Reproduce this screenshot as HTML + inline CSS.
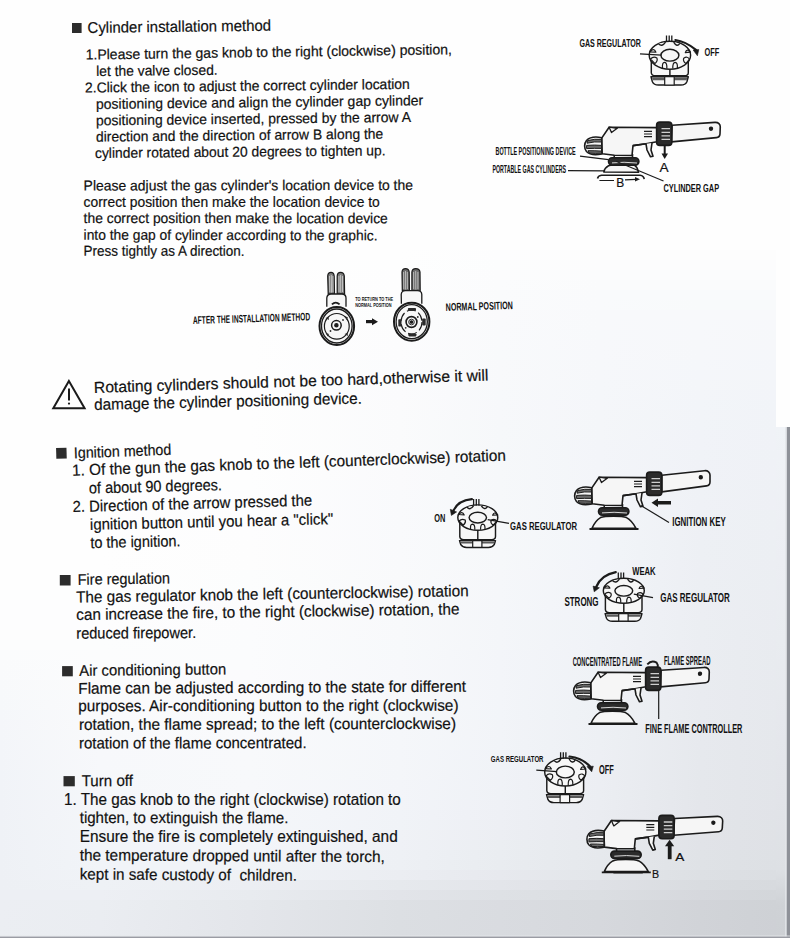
<!DOCTYPE html>
<html><head><meta charset="utf-8"><style>
html,body{margin:0;padding:0;background:#f3f3f4;}
svg{display:block;}
.t{font-family:"Liberation Sans",sans-serif;fill:#111;stroke:#111;stroke-width:0.2px;}
.c{font-family:"Liberation Sans",sans-serif;fill:#111;font-weight:bold;}
</style></head><body>
<svg width="790" height="938" viewBox="0 0 790 938">
<defs>
<linearGradient id="bgv" x1="0" y1="0" x2="0" y2="1">
  <stop offset="0" stop-color="#f5f5f5"/>
  <stop offset="0.5" stop-color="#f3f3f4"/>
  <stop offset="1" stop-color="#eeeff2"/>
</linearGradient>



</defs>
<defs><linearGradient id="bg0" x1="0" x2="1" y1="0" y2="0"><stop offset="0.000" stop-color="#fefefe"/><stop offset="0.129" stop-color="#fefefe"/><stop offset="0.322" stop-color="#fefefe"/><stop offset="0.515" stop-color="#fefefe"/><stop offset="0.644" stop-color="#fefefe"/><stop offset="0.773" stop-color="#fefefe"/><stop offset="0.902" stop-color="#fefefe"/><stop offset="1.000" stop-color="#fefefe"/></linearGradient><linearGradient id="bg1" x1="0" x2="1" y1="0" y2="0"><stop offset="0.000" stop-color="#fefefe"/><stop offset="0.129" stop-color="#fefefe"/><stop offset="0.322" stop-color="#fefefe"/><stop offset="0.515" stop-color="#fefefe"/><stop offset="0.644" stop-color="#fdfdfe"/><stop offset="0.773" stop-color="#fdfdfd"/><stop offset="0.902" stop-color="#fdfdfd"/><stop offset="1.000" stop-color="#fdfdfd"/></linearGradient><linearGradient id="bg2" x1="0" x2="1" y1="0" y2="0"><stop offset="0.000" stop-color="#fefefe"/><stop offset="0.129" stop-color="#fefefe"/><stop offset="0.322" stop-color="#fefefe"/><stop offset="0.515" stop-color="#fdfefe"/><stop offset="0.644" stop-color="#fcfdfd"/><stop offset="0.773" stop-color="#fcfcfd"/><stop offset="0.902" stop-color="#fcfcfd"/><stop offset="1.000" stop-color="#fcfcfd"/></linearGradient><linearGradient id="bg3" x1="0" x2="1" y1="0" y2="0"><stop offset="0.000" stop-color="#fefefe"/><stop offset="0.129" stop-color="#fefefe"/><stop offset="0.322" stop-color="#fefefe"/><stop offset="0.515" stop-color="#fdfdfe"/><stop offset="0.644" stop-color="#fcfcfd"/><stop offset="0.773" stop-color="#fbfcfd"/><stop offset="0.902" stop-color="#fbfcfd"/><stop offset="1.000" stop-color="#fbfcfd"/></linearGradient><linearGradient id="bg4" x1="0" x2="1" y1="0" y2="0"><stop offset="0.000" stop-color="#fefefe"/><stop offset="0.129" stop-color="#fefefe"/><stop offset="0.322" stop-color="#fefefe"/><stop offset="0.515" stop-color="#fdfdfe"/><stop offset="0.644" stop-color="#fbfcfd"/><stop offset="0.773" stop-color="#fafbfc"/><stop offset="0.902" stop-color="#fafbfc"/><stop offset="1.000" stop-color="#fafbfc"/></linearGradient><linearGradient id="bg5" x1="0" x2="1" y1="0" y2="0"><stop offset="0.000" stop-color="#fefefe"/><stop offset="0.129" stop-color="#fefefe"/><stop offset="0.322" stop-color="#fefefe"/><stop offset="0.515" stop-color="#fdfdfd"/><stop offset="0.644" stop-color="#fafbfc"/><stop offset="0.773" stop-color="#f9fafc"/><stop offset="0.902" stop-color="#f9fafc"/><stop offset="1.000" stop-color="#f9fafc"/></linearGradient><linearGradient id="bg6" x1="0" x2="1" y1="0" y2="0"><stop offset="0.000" stop-color="#fefefe"/><stop offset="0.129" stop-color="#fefefe"/><stop offset="0.322" stop-color="#fefefe"/><stop offset="0.515" stop-color="#fdfdfd"/><stop offset="0.644" stop-color="#fafbfc"/><stop offset="0.773" stop-color="#f9fafc"/><stop offset="0.902" stop-color="#f8fafb"/><stop offset="1.000" stop-color="#f8fafb"/></linearGradient><linearGradient id="bg7" x1="0" x2="1" y1="0" y2="0"><stop offset="0.000" stop-color="#fefefe"/><stop offset="0.129" stop-color="#fefefe"/><stop offset="0.322" stop-color="#fefefe"/><stop offset="0.515" stop-color="#fcfdfd"/><stop offset="0.644" stop-color="#fafafc"/><stop offset="0.773" stop-color="#f8f9fb"/><stop offset="0.902" stop-color="#f8f9fb"/><stop offset="1.000" stop-color="#f8f9fb"/></linearGradient><linearGradient id="bg8" x1="0" x2="1" y1="0" y2="0"><stop offset="0.000" stop-color="#fefefe"/><stop offset="0.129" stop-color="#fefefe"/><stop offset="0.322" stop-color="#fefefe"/><stop offset="0.515" stop-color="#fcfdfd"/><stop offset="0.644" stop-color="#f9fafc"/><stop offset="0.773" stop-color="#f8f9fb"/><stop offset="0.902" stop-color="#f7f9fb"/><stop offset="1.000" stop-color="#f7f8fb"/></linearGradient><linearGradient id="bg9" x1="0" x2="1" y1="0" y2="0"><stop offset="0.000" stop-color="#fefefe"/><stop offset="0.129" stop-color="#fefefe"/><stop offset="0.322" stop-color="#fefefe"/><stop offset="0.515" stop-color="#fcfcfd"/><stop offset="0.644" stop-color="#f9fafc"/><stop offset="0.773" stop-color="#f7f9fb"/><stop offset="0.902" stop-color="#f7f8fb"/><stop offset="1.000" stop-color="#f6f8fa"/></linearGradient><linearGradient id="bg10" x1="0" x2="1" y1="0" y2="0"><stop offset="0.000" stop-color="#fefefe"/><stop offset="0.129" stop-color="#fefefe"/><stop offset="0.322" stop-color="#fefefe"/><stop offset="0.515" stop-color="#fcfcfd"/><stop offset="0.644" stop-color="#f9fafc"/><stop offset="0.773" stop-color="#f7f8fb"/><stop offset="0.902" stop-color="#f6f8fa"/><stop offset="1.000" stop-color="#f6f7fa"/></linearGradient><linearGradient id="bg11" x1="0" x2="1" y1="0" y2="0"><stop offset="0.000" stop-color="#fefefe"/><stop offset="0.129" stop-color="#fefefe"/><stop offset="0.322" stop-color="#fefefe"/><stop offset="0.515" stop-color="#fcfcfd"/><stop offset="0.644" stop-color="#f8fafb"/><stop offset="0.773" stop-color="#f7f8fb"/><stop offset="0.902" stop-color="#f6f7fa"/><stop offset="1.000" stop-color="#f5f7fa"/></linearGradient><linearGradient id="bg12" x1="0" x2="1" y1="0" y2="0"><stop offset="0.000" stop-color="#fefefe"/><stop offset="0.129" stop-color="#fefefe"/><stop offset="0.322" stop-color="#fefefe"/><stop offset="0.515" stop-color="#fbfcfd"/><stop offset="0.644" stop-color="#f8f9fb"/><stop offset="0.773" stop-color="#f6f8fa"/><stop offset="0.902" stop-color="#f5f7fa"/><stop offset="1.000" stop-color="#f4f6fa"/></linearGradient><linearGradient id="bg13" x1="0" x2="1" y1="0" y2="0"><stop offset="0.000" stop-color="#fefefe"/><stop offset="0.129" stop-color="#fefefe"/><stop offset="0.322" stop-color="#fefefe"/><stop offset="0.515" stop-color="#fbfcfd"/><stop offset="0.644" stop-color="#f8f9fb"/><stop offset="0.773" stop-color="#f6f7fa"/><stop offset="0.902" stop-color="#f4f6fa"/><stop offset="1.000" stop-color="#f4f6f9"/></linearGradient><linearGradient id="bg14" x1="0" x2="1" y1="0" y2="0"><stop offset="0.000" stop-color="#fefefe"/><stop offset="0.129" stop-color="#fefefe"/><stop offset="0.322" stop-color="#fefefe"/><stop offset="0.515" stop-color="#fbfcfd"/><stop offset="0.644" stop-color="#f8f9fb"/><stop offset="0.773" stop-color="#f5f7fa"/><stop offset="0.902" stop-color="#f4f6f9"/><stop offset="1.000" stop-color="#f3f5f9"/></linearGradient><linearGradient id="bg15" x1="0" x2="1" y1="0" y2="0"><stop offset="0.000" stop-color="#fefefe"/><stop offset="0.129" stop-color="#fefefe"/><stop offset="0.322" stop-color="#fefefe"/><stop offset="0.515" stop-color="#fbfbfd"/><stop offset="0.644" stop-color="#f7f9fb"/><stop offset="0.773" stop-color="#f5f7fa"/><stop offset="0.902" stop-color="#f3f5f9"/><stop offset="1.000" stop-color="#f2f4f9"/></linearGradient><linearGradient id="bg16" x1="0" x2="1" y1="0" y2="0"><stop offset="0.000" stop-color="#fefefe"/><stop offset="0.129" stop-color="#fefefe"/><stop offset="0.322" stop-color="#fefefe"/><stop offset="0.515" stop-color="#fbfbfc"/><stop offset="0.644" stop-color="#f7f8fb"/><stop offset="0.773" stop-color="#f5f6fa"/><stop offset="0.902" stop-color="#f2f5f9"/><stop offset="1.000" stop-color="#f1f4f8"/></linearGradient><linearGradient id="bg17" x1="0" x2="1" y1="0" y2="0"><stop offset="0.000" stop-color="#fefefe"/><stop offset="0.129" stop-color="#fefefe"/><stop offset="0.322" stop-color="#fefefe"/><stop offset="0.515" stop-color="#fafbfc"/><stop offset="0.644" stop-color="#f7f8fb"/><stop offset="0.773" stop-color="#f4f6f9"/><stop offset="0.902" stop-color="#f2f4f8"/><stop offset="1.000" stop-color="#f1f3f8"/></linearGradient><linearGradient id="bg18" x1="0" x2="1" y1="0" y2="0"><stop offset="0.000" stop-color="#fefefe"/><stop offset="0.129" stop-color="#fefefe"/><stop offset="0.322" stop-color="#fefefe"/><stop offset="0.515" stop-color="#fafbfc"/><stop offset="0.644" stop-color="#f6f8fa"/><stop offset="0.773" stop-color="#f4f6f9"/><stop offset="0.902" stop-color="#f1f4f8"/><stop offset="1.000" stop-color="#f0f3f7"/></linearGradient><linearGradient id="bg19" x1="0" x2="1" y1="0" y2="0"><stop offset="0.000" stop-color="#fefefe"/><stop offset="0.129" stop-color="#fefefe"/><stop offset="0.322" stop-color="#fefefe"/><stop offset="0.515" stop-color="#fafbfc"/><stop offset="0.644" stop-color="#f6f8fa"/><stop offset="0.773" stop-color="#f4f6f9"/><stop offset="0.902" stop-color="#f1f3f8"/><stop offset="1.000" stop-color="#f0f2f7"/></linearGradient><linearGradient id="bg20" x1="0" x2="1" y1="0" y2="0"><stop offset="0.000" stop-color="#fefefe"/><stop offset="0.129" stop-color="#fefefe"/><stop offset="0.322" stop-color="#fefefe"/><stop offset="0.515" stop-color="#fafbfc"/><stop offset="0.644" stop-color="#f6f8fa"/><stop offset="0.773" stop-color="#f3f5f9"/><stop offset="0.902" stop-color="#f1f3f8"/><stop offset="1.000" stop-color="#f0f2f7"/></linearGradient><linearGradient id="bg21" x1="0" x2="1" y1="0" y2="0"><stop offset="0.000" stop-color="#fefefe"/><stop offset="0.129" stop-color="#fefefe"/><stop offset="0.322" stop-color="#fefefe"/><stop offset="0.515" stop-color="#fafbfc"/><stop offset="0.644" stop-color="#f6f8fa"/><stop offset="0.773" stop-color="#f3f5f9"/><stop offset="0.902" stop-color="#f0f3f7"/><stop offset="1.000" stop-color="#eff2f6"/></linearGradient><linearGradient id="bg22" x1="0" x2="1" y1="0" y2="0"><stop offset="0.000" stop-color="#fefefe"/><stop offset="0.129" stop-color="#fefefe"/><stop offset="0.322" stop-color="#fefefe"/><stop offset="0.515" stop-color="#fafbfc"/><stop offset="0.644" stop-color="#f6f8fa"/><stop offset="0.773" stop-color="#f3f5f9"/><stop offset="0.902" stop-color="#f0f2f7"/><stop offset="1.000" stop-color="#eff1f6"/></linearGradient><linearGradient id="bg23" x1="0" x2="1" y1="0" y2="0"><stop offset="0.000" stop-color="#fefefe"/><stop offset="0.129" stop-color="#fefefe"/><stop offset="0.322" stop-color="#fefefe"/><stop offset="0.515" stop-color="#fafafc"/><stop offset="0.644" stop-color="#f6f8fa"/><stop offset="0.773" stop-color="#f3f5f9"/><stop offset="0.902" stop-color="#f0f2f7"/><stop offset="1.000" stop-color="#eff1f6"/></linearGradient><linearGradient id="bg24" x1="0" x2="1" y1="0" y2="0"><stop offset="0.000" stop-color="#fefefe"/><stop offset="0.129" stop-color="#fefefe"/><stop offset="0.322" stop-color="#fdfefe"/><stop offset="0.515" stop-color="#fafafc"/><stop offset="0.644" stop-color="#f6f8fa"/><stop offset="0.773" stop-color="#f3f5f9"/><stop offset="0.902" stop-color="#eff2f6"/><stop offset="1.000" stop-color="#eef1f5"/></linearGradient><linearGradient id="bg25" x1="0" x2="1" y1="0" y2="0"><stop offset="0.000" stop-color="#fefefe"/><stop offset="0.129" stop-color="#fefefe"/><stop offset="0.322" stop-color="#fdfdfe"/><stop offset="0.515" stop-color="#f9fafc"/><stop offset="0.644" stop-color="#f6f8fa"/><stop offset="0.773" stop-color="#f3f5f9"/><stop offset="0.902" stop-color="#eff2f6"/><stop offset="1.000" stop-color="#eef0f5"/></linearGradient><linearGradient id="bg26" x1="0" x2="1" y1="0" y2="0"><stop offset="0.000" stop-color="#fefefe"/><stop offset="0.129" stop-color="#fefefe"/><stop offset="0.322" stop-color="#fdfdfe"/><stop offset="0.515" stop-color="#f9fafc"/><stop offset="0.644" stop-color="#f6f8fa"/><stop offset="0.773" stop-color="#f3f5f9"/><stop offset="0.902" stop-color="#eff1f6"/><stop offset="1.000" stop-color="#eef0f5"/></linearGradient><linearGradient id="bg27" x1="0" x2="1" y1="0" y2="0"><stop offset="0.000" stop-color="#fefefe"/><stop offset="0.129" stop-color="#fefefe"/><stop offset="0.322" stop-color="#fdfdfe"/><stop offset="0.515" stop-color="#f9fafc"/><stop offset="0.644" stop-color="#f6f8fa"/><stop offset="0.773" stop-color="#f3f5f9"/><stop offset="0.902" stop-color="#eef1f5"/><stop offset="1.000" stop-color="#edf0f4"/></linearGradient><linearGradient id="bg28" x1="0" x2="1" y1="0" y2="0"><stop offset="0.000" stop-color="#fefefe"/><stop offset="0.129" stop-color="#fefefe"/><stop offset="0.322" stop-color="#fdfdfe"/><stop offset="0.515" stop-color="#f9fafc"/><stop offset="0.644" stop-color="#f6f8fa"/><stop offset="0.773" stop-color="#f3f5f9"/><stop offset="0.902" stop-color="#eef1f5"/><stop offset="1.000" stop-color="#edf0f4"/></linearGradient><linearGradient id="bg29" x1="0" x2="1" y1="0" y2="0"><stop offset="0.000" stop-color="#fefefe"/><stop offset="0.129" stop-color="#fefefe"/><stop offset="0.322" stop-color="#fdfdfe"/><stop offset="0.515" stop-color="#f9fafc"/><stop offset="0.644" stop-color="#f6f8fa"/><stop offset="0.773" stop-color="#f3f5f9"/><stop offset="0.902" stop-color="#eef0f5"/><stop offset="1.000" stop-color="#edeff4"/></linearGradient><linearGradient id="bg30" x1="0" x2="1" y1="0" y2="0"><stop offset="0.000" stop-color="#fefefe"/><stop offset="0.129" stop-color="#fefefe"/><stop offset="0.322" stop-color="#fdfdfd"/><stop offset="0.515" stop-color="#f9fafc"/><stop offset="0.644" stop-color="#f6f8fa"/><stop offset="0.773" stop-color="#f2f5f9"/><stop offset="0.902" stop-color="#edf0f4"/><stop offset="1.000" stop-color="#eceff3"/></linearGradient><linearGradient id="bg31" x1="0" x2="1" y1="0" y2="0"><stop offset="0.000" stop-color="#fefefe"/><stop offset="0.129" stop-color="#fefefe"/><stop offset="0.322" stop-color="#fdfdfd"/><stop offset="0.515" stop-color="#f9fafc"/><stop offset="0.644" stop-color="#f6f8fa"/><stop offset="0.773" stop-color="#f2f5f9"/><stop offset="0.902" stop-color="#edf0f4"/><stop offset="1.000" stop-color="#eceff3"/></linearGradient><linearGradient id="bg32" x1="0" x2="1" y1="0" y2="0"><stop offset="0.000" stop-color="#fefefe"/><stop offset="0.129" stop-color="#fefefe"/><stop offset="0.322" stop-color="#fdfdfd"/><stop offset="0.515" stop-color="#f9fafc"/><stop offset="0.644" stop-color="#f6f8fa"/><stop offset="0.773" stop-color="#f2f4f9"/><stop offset="0.902" stop-color="#edeff4"/><stop offset="1.000" stop-color="#eceef3"/></linearGradient><linearGradient id="bg33" x1="0" x2="1" y1="0" y2="0"><stop offset="0.000" stop-color="#fefefe"/><stop offset="0.129" stop-color="#fefefe"/><stop offset="0.322" stop-color="#fcfdfd"/><stop offset="0.515" stop-color="#f9fafb"/><stop offset="0.644" stop-color="#f6f7fa"/><stop offset="0.773" stop-color="#f2f4f8"/><stop offset="0.902" stop-color="#edeff4"/><stop offset="1.000" stop-color="#ebeef2"/></linearGradient><linearGradient id="bg34" x1="0" x2="1" y1="0" y2="0"><stop offset="0.000" stop-color="#fefefe"/><stop offset="0.129" stop-color="#fefefe"/><stop offset="0.322" stop-color="#fcfdfd"/><stop offset="0.515" stop-color="#f8f9fb"/><stop offset="0.644" stop-color="#f5f7fa"/><stop offset="0.773" stop-color="#f1f4f8"/><stop offset="0.902" stop-color="#eceff3"/><stop offset="1.000" stop-color="#ebeef2"/></linearGradient><linearGradient id="bg35" x1="0" x2="1" y1="0" y2="0"><stop offset="0.000" stop-color="#fdfefe"/><stop offset="0.129" stop-color="#fdfefe"/><stop offset="0.322" stop-color="#fcfcfd"/><stop offset="0.515" stop-color="#f8f9fb"/><stop offset="0.644" stop-color="#f5f7fa"/><stop offset="0.773" stop-color="#f1f4f8"/><stop offset="0.902" stop-color="#eceff3"/><stop offset="1.000" stop-color="#ebedf2"/></linearGradient><linearGradient id="bg36" x1="0" x2="1" y1="0" y2="0"><stop offset="0.000" stop-color="#fdfdfe"/><stop offset="0.129" stop-color="#fdfdfe"/><stop offset="0.322" stop-color="#fcfcfd"/><stop offset="0.515" stop-color="#f8f9fb"/><stop offset="0.644" stop-color="#f5f7fa"/><stop offset="0.773" stop-color="#f1f3f8"/><stop offset="0.902" stop-color="#eceef3"/><stop offset="1.000" stop-color="#eaedf1"/></linearGradient><linearGradient id="bg37" x1="0" x2="1" y1="0" y2="0"><stop offset="0.000" stop-color="#fdfdfe"/><stop offset="0.129" stop-color="#fdfdfe"/><stop offset="0.322" stop-color="#fcfcfd"/><stop offset="0.515" stop-color="#f8f9fb"/><stop offset="0.644" stop-color="#f4f6fa"/><stop offset="0.773" stop-color="#f1f3f8"/><stop offset="0.902" stop-color="#eceef3"/><stop offset="1.000" stop-color="#eaecf1"/></linearGradient><linearGradient id="bg38" x1="0" x2="1" y1="0" y2="0"><stop offset="0.000" stop-color="#fdfdfe"/><stop offset="0.129" stop-color="#fdfdfe"/><stop offset="0.322" stop-color="#fcfcfd"/><stop offset="0.515" stop-color="#f8f9fb"/><stop offset="0.644" stop-color="#f4f6f9"/><stop offset="0.773" stop-color="#f0f3f7"/><stop offset="0.902" stop-color="#ebeef2"/><stop offset="1.000" stop-color="#eaecf1"/></linearGradient><linearGradient id="bg39" x1="0" x2="1" y1="0" y2="0"><stop offset="0.000" stop-color="#fdfdfd"/><stop offset="0.129" stop-color="#fdfdfd"/><stop offset="0.322" stop-color="#fbfcfd"/><stop offset="0.515" stop-color="#f8f9fb"/><stop offset="0.644" stop-color="#f4f6f9"/><stop offset="0.773" stop-color="#f0f3f7"/><stop offset="0.902" stop-color="#ebeef2"/><stop offset="1.000" stop-color="#e9ecf0"/></linearGradient><linearGradient id="bg40" x1="0" x2="1" y1="0" y2="0"><stop offset="0.000" stop-color="#fcfdfd"/><stop offset="0.129" stop-color="#fcfdfd"/><stop offset="0.322" stop-color="#fbfcfd"/><stop offset="0.515" stop-color="#f7f9fb"/><stop offset="0.644" stop-color="#f4f6f9"/><stop offset="0.773" stop-color="#f0f2f7"/><stop offset="0.902" stop-color="#ebedf2"/><stop offset="1.000" stop-color="#e9ebf0"/></linearGradient><linearGradient id="bg41" x1="0" x2="1" y1="0" y2="0"><stop offset="0.000" stop-color="#fbfcfd"/><stop offset="0.129" stop-color="#fcfcfd"/><stop offset="0.322" stop-color="#fbfcfd"/><stop offset="0.515" stop-color="#f7f9fb"/><stop offset="0.644" stop-color="#f3f5f9"/><stop offset="0.773" stop-color="#f0f2f7"/><stop offset="0.902" stop-color="#eaedf1"/><stop offset="1.000" stop-color="#e8ebef"/></linearGradient><linearGradient id="bg42" x1="0" x2="1" y1="0" y2="0"><stop offset="0.000" stop-color="#fafbfc"/><stop offset="0.129" stop-color="#fbfcfd"/><stop offset="0.322" stop-color="#fbfcfd"/><stop offset="0.515" stop-color="#f7f8fb"/><stop offset="0.644" stop-color="#f3f5f9"/><stop offset="0.773" stop-color="#eff2f6"/><stop offset="0.902" stop-color="#eaedf1"/><stop offset="1.000" stop-color="#e8ebef"/></linearGradient><linearGradient id="bg43" x1="0" x2="1" y1="0" y2="0"><stop offset="0.000" stop-color="#f9fafc"/><stop offset="0.129" stop-color="#fbfcfd"/><stop offset="0.322" stop-color="#fbfbfd"/><stop offset="0.515" stop-color="#f7f8fb"/><stop offset="0.644" stop-color="#f3f5f9"/><stop offset="0.773" stop-color="#eff2f6"/><stop offset="0.902" stop-color="#eaecf1"/><stop offset="1.000" stop-color="#e8eaef"/></linearGradient><linearGradient id="bg44" x1="0" x2="1" y1="0" y2="0"><stop offset="0.000" stop-color="#f8f9fb"/><stop offset="0.129" stop-color="#fbfbfc"/><stop offset="0.322" stop-color="#fbfbfc"/><stop offset="0.515" stop-color="#f7f8fb"/><stop offset="0.644" stop-color="#f3f5f9"/><stop offset="0.773" stop-color="#eff1f6"/><stop offset="0.902" stop-color="#e9ecf0"/><stop offset="1.000" stop-color="#e7eaee"/></linearGradient><linearGradient id="bg45" x1="0" x2="1" y1="0" y2="0"><stop offset="0.000" stop-color="#f7f9fb"/><stop offset="0.129" stop-color="#fafbfc"/><stop offset="0.322" stop-color="#fbfbfc"/><stop offset="0.515" stop-color="#f7f8fb"/><stop offset="0.644" stop-color="#f3f5f9"/><stop offset="0.773" stop-color="#eff1f6"/><stop offset="0.902" stop-color="#e9ebf0"/><stop offset="1.000" stop-color="#e7e9ee"/></linearGradient><linearGradient id="bg46" x1="0" x2="1" y1="0" y2="0"><stop offset="0.000" stop-color="#f6f8fa"/><stop offset="0.129" stop-color="#fafafc"/><stop offset="0.322" stop-color="#fafbfc"/><stop offset="0.515" stop-color="#f6f8fb"/><stop offset="0.644" stop-color="#f3f5f9"/><stop offset="0.773" stop-color="#eef1f5"/><stop offset="0.902" stop-color="#e9ebf0"/><stop offset="1.000" stop-color="#e7e9ee"/></linearGradient><linearGradient id="bg47" x1="0" x2="1" y1="0" y2="0"><stop offset="0.000" stop-color="#f5f7fa"/><stop offset="0.129" stop-color="#f9fafc"/><stop offset="0.322" stop-color="#fafbfc"/><stop offset="0.515" stop-color="#f6f8fa"/><stop offset="0.644" stop-color="#f2f5f9"/><stop offset="0.773" stop-color="#eef1f5"/><stop offset="0.902" stop-color="#e8ebef"/><stop offset="1.000" stop-color="#e6e9ed"/></linearGradient><linearGradient id="bg48" x1="0" x2="1" y1="0" y2="0"><stop offset="0.000" stop-color="#f5f6fa"/><stop offset="0.129" stop-color="#f9fafb"/><stop offset="0.322" stop-color="#fafbfc"/><stop offset="0.515" stop-color="#f6f8fa"/><stop offset="0.644" stop-color="#f2f4f8"/><stop offset="0.773" stop-color="#eef0f5"/><stop offset="0.902" stop-color="#e8eaef"/><stop offset="1.000" stop-color="#e6e8ed"/></linearGradient><linearGradient id="bg49" x1="0" x2="1" y1="0" y2="0"><stop offset="0.000" stop-color="#f4f6f9"/><stop offset="0.129" stop-color="#f8f9fb"/><stop offset="0.322" stop-color="#f9fafc"/><stop offset="0.515" stop-color="#f5f7fa"/><stop offset="0.644" stop-color="#f2f4f8"/><stop offset="0.773" stop-color="#edf0f4"/><stop offset="0.902" stop-color="#e7eaee"/><stop offset="1.000" stop-color="#e5e8ec"/></linearGradient><linearGradient id="bg50" x1="0" x2="1" y1="0" y2="0"><stop offset="0.000" stop-color="#f3f5f9"/><stop offset="0.129" stop-color="#f8f9fb"/><stop offset="0.322" stop-color="#f9fafc"/><stop offset="0.515" stop-color="#f5f7fa"/><stop offset="0.644" stop-color="#f1f4f8"/><stop offset="0.773" stop-color="#edf0f4"/><stop offset="0.902" stop-color="#e7e9ee"/><stop offset="1.000" stop-color="#e5e7ec"/></linearGradient><linearGradient id="bg51" x1="0" x2="1" y1="0" y2="0"><stop offset="0.000" stop-color="#f3f5f9"/><stop offset="0.129" stop-color="#f7f8fb"/><stop offset="0.322" stop-color="#f8f9fb"/><stop offset="0.515" stop-color="#f4f6fa"/><stop offset="0.644" stop-color="#f1f3f8"/><stop offset="0.773" stop-color="#edeff4"/><stop offset="0.902" stop-color="#e6e9ed"/><stop offset="1.000" stop-color="#e4e7eb"/></linearGradient><linearGradient id="bg52" x1="0" x2="1" y1="0" y2="0"><stop offset="0.000" stop-color="#f2f4f8"/><stop offset="0.129" stop-color="#f7f8fb"/><stop offset="0.322" stop-color="#f8f9fb"/><stop offset="0.515" stop-color="#f4f6f9"/><stop offset="0.644" stop-color="#f0f3f7"/><stop offset="0.773" stop-color="#eceff3"/><stop offset="0.902" stop-color="#e6e8ed"/><stop offset="1.000" stop-color="#e4e6eb"/></linearGradient><linearGradient id="bg53" x1="0" x2="1" y1="0" y2="0"><stop offset="0.000" stop-color="#f1f4f8"/><stop offset="0.129" stop-color="#f6f8fa"/><stop offset="0.322" stop-color="#f7f9fb"/><stop offset="0.515" stop-color="#f4f6f9"/><stop offset="0.644" stop-color="#f0f2f7"/><stop offset="0.773" stop-color="#eceef3"/><stop offset="0.902" stop-color="#e5e8ec"/><stop offset="1.000" stop-color="#e3e6ea"/></linearGradient><linearGradient id="bg54" x1="0" x2="1" y1="0" y2="0"><stop offset="0.000" stop-color="#f1f3f8"/><stop offset="0.129" stop-color="#f6f7fa"/><stop offset="0.322" stop-color="#f7f8fb"/><stop offset="0.515" stop-color="#f3f5f9"/><stop offset="0.644" stop-color="#f0f2f7"/><stop offset="0.773" stop-color="#eceef3"/><stop offset="0.902" stop-color="#e5e7ec"/><stop offset="1.000" stop-color="#e3e5ea"/></linearGradient><linearGradient id="bg55" x1="0" x2="1" y1="0" y2="0"><stop offset="0.000" stop-color="#f0f3f7"/><stop offset="0.129" stop-color="#f5f7fa"/><stop offset="0.322" stop-color="#f6f8fb"/><stop offset="0.515" stop-color="#f3f5f9"/><stop offset="0.644" stop-color="#eff2f6"/><stop offset="0.773" stop-color="#ebeef2"/><stop offset="0.902" stop-color="#e4e7eb"/><stop offset="1.000" stop-color="#e2e5e9"/></linearGradient><linearGradient id="bg56" x1="0" x2="1" y1="0" y2="0"><stop offset="0.000" stop-color="#f0f2f7"/><stop offset="0.129" stop-color="#f5f6fa"/><stop offset="0.322" stop-color="#f6f7fa"/><stop offset="0.515" stop-color="#f2f4f8"/><stop offset="0.644" stop-color="#eff1f6"/><stop offset="0.773" stop-color="#ebedf2"/><stop offset="0.902" stop-color="#e4e6eb"/><stop offset="1.000" stop-color="#e2e4e9"/></linearGradient><linearGradient id="bg57" x1="0" x2="1" y1="0" y2="0"><stop offset="0.000" stop-color="#f0f2f7"/><stop offset="0.129" stop-color="#f4f6f9"/><stop offset="0.322" stop-color="#f5f7fa"/><stop offset="0.515" stop-color="#f1f3f8"/><stop offset="0.644" stop-color="#eef0f5"/><stop offset="0.773" stop-color="#eaecf1"/><stop offset="0.902" stop-color="#e3e5ea"/><stop offset="1.000" stop-color="#e1e3e8"/></linearGradient><linearGradient id="bg58" x1="0" x2="1" y1="0" y2="0"><stop offset="0.000" stop-color="#eff2f6"/><stop offset="0.129" stop-color="#f4f6f9"/><stop offset="0.322" stop-color="#f4f6fa"/><stop offset="0.515" stop-color="#f0f3f7"/><stop offset="0.644" stop-color="#edeff4"/><stop offset="0.773" stop-color="#e9ebf0"/><stop offset="0.902" stop-color="#e2e5e9"/><stop offset="1.000" stop-color="#e0e3e7"/></linearGradient><linearGradient id="bg59" x1="0" x2="1" y1="0" y2="0"><stop offset="0.000" stop-color="#eff2f6"/><stop offset="0.129" stop-color="#f3f5f9"/><stop offset="0.322" stop-color="#f4f6f9"/><stop offset="0.515" stop-color="#f0f2f6"/><stop offset="0.644" stop-color="#eceef3"/><stop offset="0.773" stop-color="#e8eaef"/><stop offset="0.902" stop-color="#e2e4e8"/><stop offset="1.000" stop-color="#e0e2e6"/></linearGradient><linearGradient id="bg60" x1="0" x2="1" y1="0" y2="0"><stop offset="0.000" stop-color="#eff1f6"/><stop offset="0.129" stop-color="#f2f5f9"/><stop offset="0.322" stop-color="#f3f5f9"/><stop offset="0.515" stop-color="#eff1f6"/><stop offset="0.644" stop-color="#ebeef2"/><stop offset="0.773" stop-color="#e7eaee"/><stop offset="0.902" stop-color="#e1e3e8"/><stop offset="1.000" stop-color="#dfe1e6"/></linearGradient><linearGradient id="bg61" x1="0" x2="1" y1="0" y2="0"><stop offset="0.000" stop-color="#eef1f5"/><stop offset="0.129" stop-color="#f2f4f8"/><stop offset="0.322" stop-color="#f2f4f9"/><stop offset="0.515" stop-color="#eef1f5"/><stop offset="0.644" stop-color="#eaedf1"/><stop offset="0.773" stop-color="#e6e9ed"/><stop offset="0.902" stop-color="#e0e3e7"/><stop offset="1.000" stop-color="#dee1e5"/></linearGradient><linearGradient id="bg62" x1="0" x2="1" y1="0" y2="0"><stop offset="0.000" stop-color="#eef1f5"/><stop offset="0.129" stop-color="#f1f4f8"/><stop offset="0.322" stop-color="#f1f4f8"/><stop offset="0.515" stop-color="#edf0f4"/><stop offset="0.644" stop-color="#e9ecf0"/><stop offset="0.773" stop-color="#e5e8ec"/><stop offset="0.902" stop-color="#dfe2e6"/><stop offset="1.000" stop-color="#dde0e4"/></linearGradient><linearGradient id="bg63" x1="0" x2="1" y1="0" y2="0"><stop offset="0.000" stop-color="#eef0f5"/><stop offset="0.129" stop-color="#f0f3f7"/><stop offset="0.322" stop-color="#eff2f6"/><stop offset="0.515" stop-color="#ebedf2"/><stop offset="0.644" stop-color="#e7e9ee"/><stop offset="0.773" stop-color="#e3e6ea"/><stop offset="0.902" stop-color="#dde0e4"/><stop offset="1.000" stop-color="#dbdee2"/></linearGradient><linearGradient id="bg64" x1="0" x2="1" y1="0" y2="0"><stop offset="0.000" stop-color="#edf0f4"/><stop offset="0.129" stop-color="#eef1f5"/><stop offset="0.322" stop-color="#eceef3"/><stop offset="0.515" stop-color="#e6e9ed"/><stop offset="0.644" stop-color="#e3e5ea"/><stop offset="0.773" stop-color="#dfe1e6"/><stop offset="0.902" stop-color="#d9dce0"/><stop offset="1.000" stop-color="#d7dade"/></linearGradient><linearGradient id="bg65" x1="0" x2="1" y1="0" y2="0"><stop offset="0.000" stop-color="#edeff4"/><stop offset="0.129" stop-color="#edeff4"/><stop offset="0.322" stop-color="#e8ebef"/><stop offset="0.515" stop-color="#e2e4e9"/><stop offset="0.644" stop-color="#dee1e5"/><stop offset="0.773" stop-color="#dbdee2"/><stop offset="0.902" stop-color="#d6d8dd"/><stop offset="1.000" stop-color="#d3d6da"/></linearGradient><linearGradient id="bg66" x1="0" x2="1" y1="0" y2="0"><stop offset="0.000" stop-color="#eceef3"/><stop offset="0.129" stop-color="#ebeef2"/><stop offset="0.322" stop-color="#e5e8ec"/><stop offset="0.515" stop-color="#dde0e4"/><stop offset="0.644" stop-color="#dadce1"/><stop offset="0.773" stop-color="#d7dade"/><stop offset="0.902" stop-color="#d2d4d9"/><stop offset="1.000" stop-color="#cfd2d6"/></linearGradient><linearGradient id="bg67" x1="0" x2="1" y1="0" y2="0"><stop offset="0.000" stop-color="#eceef3"/><stop offset="0.129" stop-color="#eaedf1"/><stop offset="0.322" stop-color="#e4e6eb"/><stop offset="0.515" stop-color="#dcdfe3"/><stop offset="0.644" stop-color="#d9dce0"/><stop offset="0.773" stop-color="#d6d9dd"/><stop offset="0.902" stop-color="#d1d4d8"/><stop offset="1.000" stop-color="#ced1d5"/></linearGradient><linearGradient id="bg68" x1="0" x2="1" y1="0" y2="0"><stop offset="0.000" stop-color="#ebeef2"/><stop offset="0.129" stop-color="#eaecf1"/><stop offset="0.322" stop-color="#e3e5ea"/><stop offset="0.515" stop-color="#dbdee2"/><stop offset="0.644" stop-color="#d9dbe0"/><stop offset="0.773" stop-color="#d6d8dd"/><stop offset="0.902" stop-color="#d1d3d8"/><stop offset="1.000" stop-color="#ced0d5"/></linearGradient><linearGradient id="bg69" x1="0" x2="1" y1="0" y2="0"><stop offset="0.000" stop-color="#ebeef2"/><stop offset="0.129" stop-color="#e9ecf0"/><stop offset="0.322" stop-color="#e1e4e8"/><stop offset="0.515" stop-color="#dadde1"/><stop offset="0.644" stop-color="#d8dbdf"/><stop offset="0.773" stop-color="#d5d8dc"/><stop offset="0.902" stop-color="#d0d3d7"/><stop offset="1.000" stop-color="#cdd0d4"/></linearGradient><linearGradient id="bgr" x1="0" x2="0" y1="0" y2="1"><stop offset="0.000" stop-color="#f0f3f7"/><stop offset="0.260" stop-color="#eceef3"/><stop offset="0.417" stop-color="#e9ecf0"/><stop offset="0.573" stop-color="#e6e8ed"/><stop offset="0.730" stop-color="#e2e4e9"/><stop offset="0.867" stop-color="#dde0e4"/><stop offset="0.935" stop-color="#cfd2d6"/><stop offset="1.000" stop-color="#cdd0d4"/></linearGradient></defs>
<rect x="0" y="0" width="776" height="10" fill="#fefefe"/>
<rect x="0" y="10" width="776" height="10" fill="#fefefe"/>
<rect x="0" y="20" width="776" height="10" fill="#fefefe"/>
<rect x="0" y="30" width="776" height="10" fill="#fefefe"/>
<rect x="0" y="40" width="776" height="10" fill="#fefefe"/>
<rect x="0" y="50" width="776" height="10" fill="#fefefe"/>
<rect x="0" y="60" width="776" height="10" fill="#fefefe"/>
<rect x="0" y="70" width="776" height="10" fill="#fefefe"/>
<rect x="0" y="80" width="776" height="10" fill="#fefefe"/>
<rect x="0" y="90" width="776" height="10" fill="#fefefe"/>
<rect x="0" y="100" width="776" height="10" fill="#fefefe"/>
<rect x="0" y="110" width="776" height="10" fill="#fefefe"/>
<rect x="0" y="120" width="776" height="10" fill="#fefefe"/>
<rect x="0" y="130" width="776" height="10" fill="#fefefe"/>
<rect x="0" y="140" width="776" height="10" fill="#fefefe"/>
<rect x="0" y="150" width="776" height="10" fill="#fefefe"/>
<rect x="0" y="160" width="776" height="10" fill="#fefefe"/>
<rect x="0" y="170" width="776" height="10" fill="#fefefe"/>
<rect x="0" y="180" width="776" height="10" fill="#fefefe"/>
<rect x="0" y="190" width="776" height="10" fill="#fefefe"/>
<rect x="0" y="200" width="776" height="10" fill="#fefefe"/>
<rect x="0" y="210" width="776" height="10" fill="#fefefe"/>
<rect x="0" y="220" width="776" height="10" fill="#fefefe"/>
<rect x="0" y="230" width="776" height="10" fill="#fefefe"/>
<rect x="0" y="240" width="776" height="10" fill="url(#bg0)"/>
<rect x="0" y="250" width="776" height="10" fill="url(#bg1)"/>
<rect x="0" y="260" width="776" height="10" fill="url(#bg2)"/>
<rect x="0" y="270" width="776" height="10" fill="url(#bg3)"/>
<rect x="0" y="280" width="776" height="10" fill="url(#bg4)"/>
<rect x="0" y="290" width="776" height="10" fill="url(#bg5)"/>
<rect x="0" y="300" width="776" height="10" fill="url(#bg6)"/>
<rect x="0" y="310" width="776" height="10" fill="url(#bg7)"/>
<rect x="0" y="320" width="776" height="10" fill="url(#bg8)"/>
<rect x="0" y="330" width="776" height="10" fill="url(#bg9)"/>
<rect x="0" y="340" width="776" height="10" fill="url(#bg10)"/>
<rect x="0" y="350" width="776" height="10" fill="url(#bg11)"/>
<rect x="0" y="360" width="776" height="10" fill="url(#bg12)"/>
<rect x="0" y="370" width="776" height="10" fill="url(#bg13)"/>
<rect x="0" y="380" width="776" height="10" fill="url(#bg14)"/>
<rect x="0" y="390" width="776" height="10" fill="url(#bg15)"/>
<rect x="0" y="400" width="776" height="10" fill="url(#bg16)"/>
<rect x="0" y="410" width="776" height="10" fill="url(#bg17)"/>
<rect x="0" y="420" width="776" height="10" fill="url(#bg18)"/>
<rect x="0" y="430" width="776" height="10" fill="url(#bg19)"/>
<rect x="0" y="440" width="776" height="10" fill="url(#bg20)"/>
<rect x="0" y="450" width="776" height="10" fill="url(#bg21)"/>
<rect x="0" y="460" width="776" height="10" fill="url(#bg22)"/>
<rect x="0" y="470" width="776" height="10" fill="url(#bg23)"/>
<rect x="0" y="480" width="776" height="10" fill="url(#bg24)"/>
<rect x="0" y="490" width="776" height="10" fill="url(#bg25)"/>
<rect x="0" y="500" width="776" height="10" fill="url(#bg26)"/>
<rect x="0" y="510" width="776" height="10" fill="url(#bg27)"/>
<rect x="0" y="520" width="776" height="10" fill="url(#bg28)"/>
<rect x="0" y="530" width="776" height="10" fill="url(#bg29)"/>
<rect x="0" y="540" width="776" height="10" fill="url(#bg30)"/>
<rect x="0" y="550" width="776" height="10" fill="url(#bg31)"/>
<rect x="0" y="560" width="776" height="10" fill="url(#bg32)"/>
<rect x="0" y="570" width="776" height="10" fill="url(#bg33)"/>
<rect x="0" y="580" width="776" height="10" fill="url(#bg34)"/>
<rect x="0" y="590" width="776" height="10" fill="url(#bg35)"/>
<rect x="0" y="600" width="776" height="10" fill="url(#bg36)"/>
<rect x="0" y="610" width="776" height="10" fill="url(#bg37)"/>
<rect x="0" y="620" width="776" height="10" fill="url(#bg38)"/>
<rect x="0" y="630" width="776" height="10" fill="url(#bg39)"/>
<rect x="0" y="640" width="776" height="10" fill="url(#bg40)"/>
<rect x="0" y="650" width="776" height="10" fill="url(#bg41)"/>
<rect x="0" y="660" width="776" height="10" fill="url(#bg42)"/>
<rect x="0" y="670" width="776" height="10" fill="url(#bg43)"/>
<rect x="0" y="680" width="776" height="10" fill="url(#bg44)"/>
<rect x="0" y="690" width="776" height="10" fill="url(#bg45)"/>
<rect x="0" y="700" width="776" height="10" fill="url(#bg46)"/>
<rect x="0" y="710" width="776" height="10" fill="url(#bg47)"/>
<rect x="0" y="720" width="776" height="10" fill="url(#bg48)"/>
<rect x="0" y="730" width="776" height="10" fill="url(#bg49)"/>
<rect x="0" y="740" width="776" height="10" fill="url(#bg50)"/>
<rect x="0" y="750" width="776" height="10" fill="url(#bg51)"/>
<rect x="0" y="760" width="776" height="10" fill="url(#bg52)"/>
<rect x="0" y="770" width="776" height="10" fill="url(#bg53)"/>
<rect x="0" y="780" width="776" height="10" fill="url(#bg54)"/>
<rect x="0" y="790" width="776" height="10" fill="url(#bg55)"/>
<rect x="0" y="800" width="776" height="10" fill="url(#bg56)"/>
<rect x="0" y="810" width="776" height="10" fill="url(#bg57)"/>
<rect x="0" y="820" width="776" height="10" fill="url(#bg58)"/>
<rect x="0" y="830" width="776" height="10" fill="url(#bg59)"/>
<rect x="0" y="840" width="776" height="10" fill="url(#bg60)"/>
<rect x="0" y="850" width="776" height="10" fill="url(#bg61)"/>
<rect x="0" y="860" width="776" height="10" fill="url(#bg62)"/>
<rect x="0" y="870" width="776" height="10" fill="url(#bg63)"/>
<rect x="0" y="880" width="776" height="10" fill="url(#bg64)"/>
<rect x="0" y="890" width="776" height="10" fill="url(#bg65)"/>
<rect x="0" y="900" width="776" height="10" fill="url(#bg66)"/>
<rect x="0" y="910" width="776" height="10" fill="url(#bg67)"/>
<rect x="0" y="920" width="776" height="10" fill="url(#bg68)"/>
<rect x="0" y="930" width="776" height="8" fill="url(#bg69)"/>
<rect x="776" y="0" width="14" height="427" fill="#fefefe"/>
<rect x="776" y="427" width="14" height="511" fill="url(#bgr)"/>
<rect x="785" y="427" width="1.6" height="511" fill="#e4e6ea" opacity="0.8"/>
<rect x="786.8" y="427" width="3.2" height="511" fill="#8e9198"/>
<rect x="0" y="935.6" width="790" height="1" fill="#e6e8ec"/>
<rect x="0" y="936.6" width="790" height="1.4" fill="#9a9ca3"/>
<!-- bullets -->
<g fill="#2c2c2c">
<rect x="72" y="23" width="9.6" height="10"/>
<rect x="56.2" y="447.8" width="10.4" height="10.8" transform="rotate(-1.5 61 453)"/>
<rect x="59.8" y="575" width="10.8" height="10.5"/>
<rect x="62.1" y="666.1" width="10.7" height="10.2"/>
<rect x="63.5" y="776.1" width="11.3" height="10.2"/>
</g>
<!-- warning triangle -->
<g fill="none" stroke="#1b1b1b" stroke-width="2" stroke-linejoin="miter">
<path d="M68.9,381 L53.3,408.2 L84.6,408.2 Z"/>
<path d="M69,388.5 L69,400.5" stroke-width="2"/>
</g>
<circle cx="69" cy="403.6" r="1.1" fill="#1b1b1b"/>

<g fill="none" stroke="#1b1b1b" stroke-width="1.45" stroke-linejoin="round">
<path d="M651.3,58.2 L651.3,72.7 Q651.5,75.7 655.4,75.7 L684.4,75.7 Q688.3,75.7 688.3,72.7 L688.3,58.2" fill="#f7f7f7"/>
<line x1="669.9" y1="69.2" x2="669.9" y2="75.7"/>
<path d="M651.0,76.7 L688.3,76.7 L686.9,81.7 Q685.4,85.0 680.9,85.0 L658.4,85.0 Q653.9,85.0 652.4,81.7 Z" fill="#f7f7f7"/>
<path d="M652.0,77.5 L687.3,77.5 L686.7,80.2 L652.7,80.2 Z" fill="#5a5a5a" stroke="none"/>
<rect x="664.7" y="76.7" width="9.5" height="8.3" fill="#f7f7f7" stroke-width="1.2"/>
<ellipse cx="669.9" cy="55.2" rx="20.7" ry="14.0" fill="#f7f7f7"/>
<ellipse cx="669.9" cy="55.2" rx="9.0" ry="5.9"/>
<path d="M658.5,43.6 Q661.9,47.7 665.5,42.2" fill="#f7f7f7"/>
<path d="M673.7,42.2 Q676.9,47.7 679.8,43.4" fill="#f7f7f7"/>
<path d="M649.9,51.8 Q653.9,47.4 655.9,52.2 Z" stroke-width="1.2"/>
<path d="M690.5,52.2 Q686.9,47.8 685.3,52.6 Z" stroke-width="1.2"/>
<path d="M650.5,59.0 Q653.4,55.8 656.9,58.0 Q658.1,60.9 654.9,63.6 Z" stroke-width="1.2"/>
<path d="M689.5,59.2 Q687.4,55.8 683.7,58.2 Q682.7,61.1 685.9,63.6 Z" stroke-width="1.2"/>
<path d="M662.5,68.0 Q661.9,62.2 664.7,62.4 Q667.2,62.8 666.8,68.6" stroke-width="1.2"/>
<path d="M672.8,68.6 Q672.6,62.6 675.1,62.4 Q677.7,62.5 677.4,68.0" stroke-width="1.2"/>
<path d="M666.5,35.4 V41.8 M669.2,35.4 V41.8 M671.8,35.4 V41.8" stroke-width="1.3"/>
</g>
<path d="M640,53.9 L661.5,55.2" stroke="#1b1b1b" stroke-width="1.3" fill="none"/>
<path d="M675.4,40.0 Q685.5,41.5 696.0,49.8" fill="none" stroke="#1b1b1b" stroke-width="2.2" stroke-linecap="round"/>
<path d="M693.2,50.0 L697.4,55.8 L698.8,49.6 Z" fill="#1b1b1b" stroke="#1b1b1b" stroke-width="0.6" stroke-linejoin="round"/>
<g fill="none" stroke="#1b1b1b" stroke-width="1.45" stroke-linejoin="round">
<path d="M459.8,520.6 L459.8,536.6 Q460.0,539.6 463.7,539.6 L491.8,539.6 Q495.5,539.6 495.5,536.6 L495.5,520.6" fill="#f7f7f7"/>
<line x1="477.8" y1="530.3" x2="477.8" y2="539.6"/>
<path d="M459.5,540.6 L495.5,540.6 L494.2,544.7 Q492.7,547.4 488.4,547.4 L466.6,547.4 Q462.3,547.4 460.8,544.7 Z" fill="#f7f7f7"/>
<path d="M460.5,541.4 L494.6,541.4 L494.0,543.5 L461.1,543.5 Z" fill="#5a5a5a" stroke="none"/>
<rect x="472.7" y="540.6" width="9.2" height="6.8" fill="#f7f7f7" stroke-width="1.2"/>
<ellipse cx="477.8" cy="517.6" rx="20.0" ry="12.7" fill="#f7f7f7"/>
<ellipse cx="477.8" cy="517.6" rx="8.7" ry="5.4"/>
<path d="M466.7,507.1 Q470.0,510.8 473.5,505.8" fill="#f7f7f7"/>
<path d="M481.4,505.8 Q484.5,510.8 487.3,506.9" fill="#f7f7f7"/>
<path d="M458.4,514.5 Q462.3,510.5 464.2,514.9 Z" stroke-width="1.2"/>
<path d="M497.7,514.9 Q494.2,510.9 492.6,515.2 Z" stroke-width="1.2"/>
<path d="M459.0,521.0 Q461.8,518.1 465.2,520.1 Q466.3,522.8 463.3,525.2 Z" stroke-width="1.2"/>
<path d="M496.7,521.2 Q494.7,518.1 491.1,520.3 Q490.1,523.0 493.2,525.2 Z" stroke-width="1.2"/>
<path d="M470.6,529.2 Q470.0,524.0 472.7,524.1 Q475.1,524.5 474.8,529.8" stroke-width="1.2"/>
<path d="M480.6,529.8 Q480.4,524.3 482.8,524.1 Q485.3,524.2 485.0,529.2" stroke-width="1.2"/>
<path d="M473.6,499.1 V505.5 M476.3,499.1 V505.5 M478.9,499.1 V505.5" stroke-width="1.3"/>
</g>
<path d="M487.7,519.6 L509,523.4" stroke="#1b1b1b" stroke-width="1.3" fill="none"/>
<path d="M471.9,499.2 Q458.0,500.5 453.5,510.6" fill="none" stroke="#1b1b1b" stroke-width="2.2" stroke-linecap="round"/>
<path d="M450.3,509.3 L451.4,515.4 L456.6,511.9 Z" fill="#1b1b1b" stroke="#1b1b1b" stroke-width="0.6" stroke-linejoin="round"/>
<g fill="none" stroke="#1b1b1b" stroke-width="1.45" stroke-linejoin="round">
<path d="M605.4,593.8 L605.4,609.6 Q605.6,612.6 609.4,612.6 L638.2,612.6 Q642.0,612.6 642.0,609.6 L642.0,593.8" fill="#f7f7f7"/>
<line x1="623.8" y1="603.3" x2="623.8" y2="612.6"/>
<path d="M605.1,613.6 L642.0,613.6 L640.6,618.2 Q639.2,621.2 634.7,621.2 L612.4,621.2 Q608.0,621.2 606.5,618.2 Z" fill="#f7f7f7"/>
<path d="M606.1,614.4 L641.0,614.4 L640.4,616.8 L606.8,616.8 Z" fill="#5a5a5a" stroke="none"/>
<rect x="618.7" y="613.6" width="9.4" height="7.6" fill="#f7f7f7" stroke-width="1.2"/>
<ellipse cx="623.8" cy="590.8" rx="20.5" ry="12.5" fill="#f7f7f7"/>
<ellipse cx="623.8" cy="590.8" rx="8.9" ry="5.3"/>
<path d="M612.5,580.4 Q615.9,584.1 619.4,579.2" fill="#f7f7f7"/>
<path d="M627.6,579.2 Q630.7,584.1 633.6,580.3" fill="#f7f7f7"/>
<path d="M604.0,587.8 Q608.0,583.8 609.9,588.1 Z" stroke-width="1.2"/>
<path d="M644.2,588.1 Q640.6,584.2 639.1,588.5 Z" stroke-width="1.2"/>
<path d="M604.6,594.2 Q607.5,591.3 610.9,593.3 Q612.1,595.9 608.9,598.3 Z" stroke-width="1.2"/>
<path d="M643.2,594.4 Q641.1,591.3 637.5,593.5 Q636.5,596.1 639.6,598.3 Z" stroke-width="1.2"/>
<path d="M616.5,602.2 Q615.9,597.0 618.7,597.2 Q621.1,597.6 620.7,602.8" stroke-width="1.2"/>
<path d="M626.7,602.8 Q626.5,597.4 628.9,597.2 Q631.5,597.3 631.2,602.2" stroke-width="1.2"/>
<path d="M618.3,572.5 V578.9 M621.0,572.5 V578.9 M623.6,572.5 V578.9" stroke-width="1.3"/>
</g>
<path d="M633.8,594.2 L653,597.6" stroke="#1b1b1b" stroke-width="1.3" fill="none"/>
<path d="M615.8,572.2 Q601.0,575.0 596.2,587.0" fill="none" stroke="#1b1b1b" stroke-width="2.2" stroke-linecap="round"/>
<path d="M593.1,586.1 L594.2,591.8 L599.4,587.8 Z" fill="#1b1b1b" stroke="#1b1b1b" stroke-width="0.6" stroke-linejoin="round"/>
<g fill="none" stroke="#1b1b1b" stroke-width="1.45" stroke-linejoin="round">
<path d="M546.8,775.0 L546.8,790.6 Q547.0,793.6 550.9,793.6 L579.7,793.6 Q583.6,793.6 583.6,790.6 L583.6,775.0" fill="#f7f7f7"/>
<line x1="565.3" y1="786.0" x2="565.3" y2="793.6"/>
<path d="M546.5,794.6 L583.6,794.6 L582.2,799.4 Q580.7,802.6 576.2,802.6 L553.9,802.6 Q549.4,802.6 547.9,799.4 Z" fill="#f7f7f7"/>
<path d="M547.5,795.4 L582.6,795.4 L582.0,798.0 L548.2,798.0 Z" fill="#5a5a5a" stroke="none"/>
<rect x="560.1" y="794.6" width="9.5" height="8.0" fill="#f7f7f7" stroke-width="1.2"/>
<ellipse cx="565.3" cy="772.0" rx="20.6" ry="14.0" fill="#f7f7f7"/>
<ellipse cx="565.3" cy="772.0" rx="9.0" ry="5.9"/>
<path d="M554.0,760.4 Q557.3,764.5 560.9,759.0" fill="#f7f7f7"/>
<path d="M569.1,759.0 Q572.3,764.5 575.2,760.2" fill="#f7f7f7"/>
<path d="M545.4,768.6 Q549.4,764.2 551.4,769.0 Z" stroke-width="1.2"/>
<path d="M585.8,769.0 Q582.2,764.6 580.6,769.4 Z" stroke-width="1.2"/>
<path d="M546.0,775.8 Q548.9,772.6 552.4,774.8 Q553.6,777.7 550.4,780.4 Z" stroke-width="1.2"/>
<path d="M584.8,776.0 Q582.7,772.6 579.0,775.0 Q578.0,777.9 581.2,780.4 Z" stroke-width="1.2"/>
<path d="M557.9,784.8 Q557.3,779.0 560.1,779.2 Q562.6,779.6 562.2,785.4" stroke-width="1.2"/>
<path d="M568.2,785.4 Q568.0,779.4 570.5,779.2 Q573.1,779.3 572.8,784.8" stroke-width="1.2"/>
<path d="M560.6,752.2 V758.6 M563.3,752.2 V758.6 M565.9,752.2 V758.6" stroke-width="1.3"/>
</g>
<path d="M536.3,770.2 L557.1,771.6" stroke="#1b1b1b" stroke-width="1.3" fill="none"/>
<path d="M569.5,756.5 Q582.0,758.0 590.1,766.4" fill="none" stroke="#1b1b1b" stroke-width="2.2" stroke-linecap="round"/>
<path d="M587.0,766.6 L591.7,771.8 L593.3,766.2 Z" fill="#1b1b1b" stroke="#1b1b1b" stroke-width="0.6" stroke-linejoin="round"/>
<!-- torch 1 -->
<g stroke="#1b1b1b" stroke-width="1.6" fill="#f6f6f6" stroke-linejoin="round">
<path d="M603.8,172 C604.5,169 606,167 608.5,165.8 C614,164.6 628,164.6 634.5,165.2 C636.8,166.5 637.8,169 638.5,172.3 Z"/>
<path d="M597.5,178.5 Q598,175.8 601.5,175.3 L640,175.3 Q643.8,175.8 644.2,179.2" fill="none"/>
</g>
<g transform="translate(10,-350)"><g stroke="#1b1b1b" stroke-width="1.6" stroke-linejoin="round" fill="#f6f6f6">
  <!-- neck -->
  <path d="M604,504 L604.5,509 M622.5,504 L622.5,509" fill="none"/>
  <!-- ring -->
  <rect x="598.5" y="507.8" width="30.4" height="7.4" rx="3.7" fill="#2b2b2b"/>
  <path d="M602,512.9 Q613.7,511.6 627,513" fill="none" stroke="#d8d8d8" stroke-width="1"/>
  <!-- body -->
  <path d="M591.5,488.4 L599.1,477.2 L646.8,477.6 L646.8,491.8 L636,493.8 L623,495.6 L622,505.5 L604.5,505.3 L592.2,503.8 Z"/>
  <path d="M599.1,477.2 L607.3,478.3 L601.5,482.6 Z" fill="#f6f6f6" stroke-width="1.3"/>
  <path d="M623,495.6 L636,493.8 L637,500 L640.5,506.8 L643,506.2 L641,500 L642,493" fill="#f6f6f6"/>
  <path d="M634,481.3 H642 M634,484 H642 M634,486.7 H642" fill="none" stroke-width="1.2"/>
  <!-- knob -->
  <path d="M591.8,487.7 C586,486.5 579.5,487.3 576.5,490.5 C574,493.5 574,498.5 576.5,501.5 C579.5,504.7 586,505.2 591.8,504 Z"/>
  <path d="M577.5,490.6 Q585,488.6 591.5,489.4 L591.5,492 Q585,491.3 577,493.2 Z M576.6,495.4 Q585,494.7 591.5,495.4 L591.5,498.4 Q585,498.2 576.6,498.6 Z M578,500.7 Q585,500.6 591.5,501.1 L591.5,503.2 Q585,503.6 579.6,503.1 Z" fill="#6a6a6a" stroke-width="1"/>
</g></g>
<g transform="translate(10,-350) rotate(2.2 661.8 483)"><g stroke="#1b1b1b" stroke-width="1.6" stroke-linejoin="round" fill="#f6f6f6">
  <!-- tube -->
  <path d="M661.8,475.2 L704.5,470.7 C708,470.4 710,472.5 710,475 L710,482 C710,484.5 708.5,485.6 706.5,485.9 L661.8,491.9 Z"/>
  <circle cx="700.8" cy="477.2" r="1.4" fill="#1b1b1b"/>
</g></g>
<g transform="translate(10,-350)"><g stroke="#1b1b1b" stroke-width="1.6" stroke-linejoin="round">
  <!-- collar -->
  <rect x="646.6" y="472.1" width="15.2" height="23.3" rx="3.2" fill="#2b2b2b"/>
  <path d="M651.5,478.7 H660 M651.5,482.3 H660 M651.5,485.8 H660 M651.5,489.3 H660" fill="none" stroke="#cfcfcf" stroke-width="1.3"/>
</g></g>
<g fill="none" stroke="#1b1b1b" stroke-width="1.2">
<path d="M580,156.1 L608.5,159.7"/>
<path d="M568,170.6 L604.7,170.8"/>
<path d="M616,161.3 L663.5,181"/>
<path d="M599.4,180.5 L614,180.5 M625,179.8 L636,179.3"/>
<path d="M664.7,145.5 L664.7,154" stroke-width="2"/>
</g>
<path d="M661.5,153.5 L668,153.5 L664.7,159 Z" fill="#1b1b1b"/>
<path d="M635,177 L640,179.2 L635,181.4 Z" fill="#1b1b1b"/>

<!-- install diagram -->
<g fill="none" stroke="#1b1b1b" stroke-width="1.3" stroke-linejoin="round">
  <!-- left fingers -->
  <path d="M328.2,294 L327.7,276 Q328,272.4 331,272.4 Q333.8,272.4 334.2,276 L334.5,294 Z" fill="#7c7c7c" stroke-width="1.2"/>
  <path d="M337.2,294 L337.2,276 Q337.5,272.4 340.5,272.4 Q343.8,272.4 344.3,276 L344.6,294 Z" fill="#7c7c7c" stroke-width="1.2"/>
  <path d="M329.8,292 L329.5,276 M331.5,292.5 L331.3,275 M333,292 L332.9,276 M339,292 L338.9,276 M340.7,292.5 L340.6,275 M342.5,292 L342.5,276" stroke="#f0f0f0" stroke-width="0.6"/>
  <path d="M326.8,306.8 L326.8,298 Q327,294.3 331,294 L342,294 Q346,294.3 346,298 L346,306.8" fill="#f7f7f7"/>
  <path d="M331.9,304.4 Q335.7,300.8 339.6,304.4" stroke-width="1.8"/>
  <ellipse cx="336.8" cy="326" rx="17.3" ry="19" fill="#f7f7f7" stroke-width="2"/>
  <ellipse cx="336.8" cy="326" rx="15.3" ry="17" stroke-width="1.3"/>
  <ellipse cx="336.8" cy="326.3" rx="12.4" ry="12.8" stroke-width="1.2"/>
  <circle cx="336.4" cy="325.3" r="4.8" stroke-width="1.5"/>
  <circle cx="336.4" cy="325.3" r="1.6" fill="#1b1b1b"/>
  <!-- right -->
  <path d="M402.3,290.6 L402,272 Q402.3,268.7 405.5,268.7 Q408.8,268.7 409.2,272 L409.4,290.6 Z" fill="#6c6c6c" stroke-width="1.2"/>
  <path d="M411.9,290.6 L411.9,272 Q412.2,268.7 415.7,268.7 Q419.6,268.7 420,272 L420.2,290.6 Z" fill="#6c6c6c" stroke-width="1.2"/>
  <path d="M403.8,289 L403.6,272 M405.6,289.5 L405.5,271 M407.4,289 L407.3,272 M413.7,289 L413.6,272 M415.8,289.5 L415.7,271 M417.9,289 L417.9,272" stroke="#eee" stroke-width="0.6"/>
  <path d="M401.4,303.8 L401.2,294.5 Q401.5,290.6 405.5,290.6 L417.5,290.6 Q421.6,290.6 421.8,294.5 L421.8,303.8" fill="#f7f7f7"/>
  <ellipse cx="411.7" cy="321.7" rx="17.7" ry="19" fill="#f7f7f7" stroke-width="2"/>
  <ellipse cx="411.7" cy="321.7" rx="15.6" ry="17" stroke-width="1.3"/>
  <ellipse cx="411.5" cy="322" rx="10.5" ry="12" stroke-width="1.1" stroke-dasharray="9 3"/>
  <circle cx="411.5" cy="322" r="5.4" stroke-width="1.6"/>
  <circle cx="411.5" cy="322" r="2.8" stroke-width="0.9"/>
  <circle cx="411.5" cy="322" r="1.2" fill="#1b1b1b"/>
</g>
<g fill="#2b2b2b">
  <rect x="407.9" y="308" width="8.1" height="2.9" rx="0.8"/>
  <rect x="408.4" y="333.5" width="8" height="2.9" rx="0.8"/>
  <rect x="398.3" y="319.2" width="3.2" height="7.3" rx="0.8"/>
  <rect x="422.2" y="318.4" width="3.5" height="7.2" rx="0.8"/>
  <circle cx="417.8" cy="317" r="0.9"/>
  <circle cx="405.7" cy="327.8" r="0.9"/>
  <path d="M325.5,318 l3,-1 l0.5,3 z M345,316 l3,1.5 l-1.5,2.5 z M344.5,334 l3,-1 l0.5,3 z M326,333 l3,1 l-1.5,2.5 z"/>
  <circle cx="343" cy="320" r="0.9"/>
  <circle cx="330.5" cy="331" r="0.9"/>
</g>
<path d="M366,321.6 L373,321.6" stroke="#1b1b1b" stroke-width="3.2"/>
<path d="M372,318.2 L378,321.7 L372,325.2 Z" fill="#1b1b1b"/>

<!-- torch 2 (ignition) -->
<g><g stroke="#1b1b1b" stroke-width="1.6" stroke-linejoin="round" fill="#f6f6f6">
  <path d="M592,528.3 C594,523.5 596.5,520 600.5,517.6 C605,515.6 622,515.6 626.5,517.6 C631,520 633.5,523.5 636,528.3 Z"/>
  <path d="M589.5,529 L638.5,529" fill="none" stroke-width="1.8"/>
</g></g>
<g><g stroke="#1b1b1b" stroke-width="1.6" stroke-linejoin="round" fill="#f6f6f6">
  <!-- neck -->
  <path d="M604,504 L604.5,509 M622.5,504 L622.5,509" fill="none"/>
  <!-- ring -->
  <rect x="598.5" y="507.8" width="30.4" height="7.4" rx="3.7" fill="#2b2b2b"/>
  <path d="M602,512.9 Q613.7,511.6 627,513" fill="none" stroke="#d8d8d8" stroke-width="1"/>
  <!-- body -->
  <path d="M591.5,488.4 L599.1,477.2 L646.8,477.6 L646.8,491.8 L636,493.8 L623,495.6 L622,505.5 L604.5,505.3 L592.2,503.8 Z"/>
  <path d="M599.1,477.2 L607.3,478.3 L601.5,482.6 Z" fill="#f6f6f6" stroke-width="1.3"/>
  <path d="M623,495.6 L636,493.8 L637,500 L640.5,506.8 L643,506.2 L641,500 L642,493" fill="#f6f6f6"/>
  <path d="M634,481.3 H642 M634,484 H642 M634,486.7 H642" fill="none" stroke-width="1.2"/>
  <!-- knob -->
  <path d="M591.8,487.7 C586,486.5 579.5,487.3 576.5,490.5 C574,493.5 574,498.5 576.5,501.5 C579.5,504.7 586,505.2 591.8,504 Z"/>
  <path d="M577.5,490.6 Q585,488.6 591.5,489.4 L591.5,492 Q585,491.3 577,493.2 Z M576.6,495.4 Q585,494.7 591.5,495.4 L591.5,498.4 Q585,498.2 576.6,498.6 Z M578,500.7 Q585,500.6 591.5,501.1 L591.5,503.2 Q585,503.6 579.6,503.1 Z" fill="#6a6a6a" stroke-width="1"/>
</g></g>
<g transform="rotate(0 661.8 483)"><g stroke="#1b1b1b" stroke-width="1.6" stroke-linejoin="round" fill="#f6f6f6">
  <!-- tube -->
  <path d="M661.8,475.2 L704.5,470.7 C708,470.4 710,472.5 710,475 L710,482 C710,484.5 708.5,485.6 706.5,485.9 L661.8,491.9 Z"/>
  <circle cx="700.8" cy="477.2" r="1.4" fill="#1b1b1b"/>
</g></g>
<g><g stroke="#1b1b1b" stroke-width="1.6" stroke-linejoin="round">
  <!-- collar -->
  <rect x="646.6" y="472.1" width="15.2" height="23.3" rx="3.2" fill="#2b2b2b"/>
  <path d="M651.5,478.7 H660 M651.5,482.3 H660 M651.5,485.8 H660 M651.5,489.3 H660" fill="none" stroke="#cfcfcf" stroke-width="1.3"/>
</g></g>
<g fill="none" stroke="#1b1b1b" stroke-width="1.2">
<path d="M640.9,505.5 L669,522.5"/>
</g>
<path d="M657,501 L671,501 L671,504.5 L657,504.5 Z" fill="#1b1b1b"/>
<path d="M658,498.5 L651.5,502.8 L658,507 Z" fill="#1b1b1b"/>

<!-- torch 3 (air) -->
<g transform="translate(-1,195)"><g stroke="#1b1b1b" stroke-width="1.6" stroke-linejoin="round" fill="#f6f6f6">
  <path d="M592,528.3 C594,523.5 596.5,520 600.5,517.6 C605,515.6 622,515.6 626.5,517.6 C631,520 633.5,523.5 636,528.3 Z"/>
  <path d="M589.5,529 L638.5,529" fill="none" stroke-width="1.8"/>
</g></g>
<g transform="translate(-1,195)"><g stroke="#1b1b1b" stroke-width="1.6" stroke-linejoin="round" fill="#f6f6f6">
  <!-- neck -->
  <path d="M604,504 L604.5,509 M622.5,504 L622.5,509" fill="none"/>
  <!-- ring -->
  <rect x="598.5" y="507.8" width="30.4" height="7.4" rx="3.7" fill="#2b2b2b"/>
  <path d="M602,512.9 Q613.7,511.6 627,513" fill="none" stroke="#d8d8d8" stroke-width="1"/>
  <!-- body -->
  <path d="M591.5,488.4 L599.1,477.2 L646.8,477.6 L646.8,491.8 L636,493.8 L623,495.6 L622,505.5 L604.5,505.3 L592.2,503.8 Z"/>
  <path d="M599.1,477.2 L607.3,478.3 L601.5,482.6 Z" fill="#f6f6f6" stroke-width="1.3"/>
  <path d="M623,495.6 L636,493.8 L637,500 L640.5,506.8 L643,506.2 L641,500 L642,493" fill="#f6f6f6"/>
  <path d="M634,481.3 H642 M634,484 H642 M634,486.7 H642" fill="none" stroke-width="1.2"/>
  <!-- knob -->
  <path d="M591.8,487.7 C586,486.5 579.5,487.3 576.5,490.5 C574,493.5 574,498.5 576.5,501.5 C579.5,504.7 586,505.2 591.8,504 Z"/>
  <path d="M577.5,490.6 Q585,488.6 591.5,489.4 L591.5,492 Q585,491.3 577,493.2 Z M576.6,495.4 Q585,494.7 591.5,495.4 L591.5,498.4 Q585,498.2 576.6,498.6 Z M578,500.7 Q585,500.6 591.5,501.1 L591.5,503.2 Q585,503.6 579.6,503.1 Z" fill="#6a6a6a" stroke-width="1"/>
</g></g>
<g transform="translate(-1,195) rotate(2.3 661.8 483)"><g stroke="#1b1b1b" stroke-width="1.6" stroke-linejoin="round" fill="#f6f6f6">
  <!-- tube -->
  <path d="M661.8,475.2 L704.5,470.7 C708,470.4 710,472.5 710,475 L710,482 C710,484.5 708.5,485.6 706.5,485.9 L661.8,491.9 Z"/>
  <circle cx="700.8" cy="477.2" r="1.4" fill="#1b1b1b"/>
</g></g>
<g transform="translate(-1,195)"><g stroke="#1b1b1b" stroke-width="1.6" stroke-linejoin="round">
  <!-- collar -->
  <rect x="646.6" y="472.1" width="15.2" height="23.3" rx="3.2" fill="#2b2b2b"/>
  <path d="M651.5,478.7 H660 M651.5,482.3 H660 M651.5,485.8 H660 M651.5,489.3 H660" fill="none" stroke="#cfcfcf" stroke-width="1.3"/>
</g></g>
<g fill="none" stroke="#1b1b1b" stroke-width="1.2">
<path d="M658.7,691 L658.7,719"/>
<path d="M647.3,664.3 Q651.5,659.6 656.6,662.6 Q658.4,664.6 657.6,667.8" stroke-width="1.9"/>
</g>

<!-- torch 4 -->
<g transform="translate(12.3,343.3)"><g stroke="#1b1b1b" stroke-width="1.6" stroke-linejoin="round" fill="#f6f6f6">
  <path d="M592,528.3 C594,523.5 596.5,520 600.5,517.6 C605,515.6 622,515.6 626.5,517.6 C631,520 633.5,523.5 636,528.3 Z"/>
  <path d="M589.5,529 L638.5,529" fill="none" stroke-width="1.8"/>
</g></g>
<g transform="translate(12.3,343.3)"><g stroke="#1b1b1b" stroke-width="1.6" stroke-linejoin="round" fill="#f6f6f6">
  <!-- neck -->
  <path d="M604,504 L604.5,509 M622.5,504 L622.5,509" fill="none"/>
  <!-- ring -->
  <rect x="598.5" y="507.8" width="30.4" height="7.4" rx="3.7" fill="#2b2b2b"/>
  <path d="M602,512.9 Q613.7,511.6 627,513" fill="none" stroke="#d8d8d8" stroke-width="1"/>
  <!-- body -->
  <path d="M591.5,488.4 L599.1,477.2 L646.8,477.6 L646.8,491.8 L636,493.8 L623,495.6 L622,505.5 L604.5,505.3 L592.2,503.8 Z"/>
  <path d="M599.1,477.2 L607.3,478.3 L601.5,482.6 Z" fill="#f6f6f6" stroke-width="1.3"/>
  <path d="M623,495.6 L636,493.8 L637,500 L640.5,506.8 L643,506.2 L641,500 L642,493" fill="#f6f6f6"/>
  <path d="M634,481.3 H642 M634,484 H642 M634,486.7 H642" fill="none" stroke-width="1.2"/>
  <!-- knob -->
  <path d="M591.8,487.7 C586,486.5 579.5,487.3 576.5,490.5 C574,493.5 574,498.5 576.5,501.5 C579.5,504.7 586,505.2 591.8,504 Z"/>
  <path d="M577.5,490.6 Q585,488.6 591.5,489.4 L591.5,492 Q585,491.3 577,493.2 Z M576.6,495.4 Q585,494.7 591.5,495.4 L591.5,498.4 Q585,498.2 576.6,498.6 Z M578,500.7 Q585,500.6 591.5,501.1 L591.5,503.2 Q585,503.6 579.6,503.1 Z" fill="#6a6a6a" stroke-width="1"/>
</g></g>
<g transform="translate(12.3,343.3) rotate(3.2 661.8 483)"><g stroke="#1b1b1b" stroke-width="1.6" stroke-linejoin="round" fill="#f6f6f6">
  <!-- tube -->
  <path d="M661.8,475.2 L704.5,470.7 C708,470.4 710,472.5 710,475 L710,482 C710,484.5 708.5,485.6 706.5,485.9 L661.8,491.9 Z"/>
  <circle cx="700.8" cy="477.2" r="1.4" fill="#1b1b1b"/>
</g></g>
<g transform="translate(12.3,343.3)"><g stroke="#1b1b1b" stroke-width="1.6" stroke-linejoin="round">
  <!-- collar -->
  <rect x="646.6" y="472.1" width="15.2" height="23.3" rx="3.2" fill="#2b2b2b"/>
  <path d="M651.5,478.7 H660 M651.5,482.3 H660 M651.5,485.8 H660 M651.5,489.3 H660" fill="none" stroke="#cfcfcf" stroke-width="1.3"/>
</g></g>
<path d="M667.8,845 L671.6,845 L671.6,859.2 L667.8,859.2 Z" fill="#1b1b1b"/>
<path d="M665,846.2 L669.6,839.8 L674.2,846.2 Z" fill="#1b1b1b"/>
<path d="M613.4,872.8 L642.8,872.8" stroke="#1b1b1b" stroke-width="1.3"/>

<g>
<text class="t" x="87.6" y="33.0" font-size="15.6" textLength="183.5" lengthAdjust="spacingAndGlyphs" transform="rotate(-0.72 87.6 33.0)">Cylinder installation method</text>
<text class="t" x="85.7" y="59.6" font-size="14.4" textLength="366.3" lengthAdjust="spacingAndGlyphs" transform="rotate(-0.83 85.7 59.6)">1.Please turn the gas knob to the right (clockwise) position,</text>
<text class="t" x="96.2" y="76.1" font-size="14.4" textLength="121.5" lengthAdjust="spacingAndGlyphs" transform="rotate(-0.61 96.2 76.1)">let the valve closed.</text>
<text class="t" x="85.0" y="92.6" font-size="14.4" textLength="324.9" lengthAdjust="spacingAndGlyphs" transform="rotate(-0.65 85.0 92.6)">2.Click the icon to adjust the correct cylinder location</text>
<text class="t" x="96.0" y="109.0" font-size="14.4" textLength="327.2" lengthAdjust="spacingAndGlyphs" transform="rotate(-0.65 96.0 109.0)">positioning device and align the cylinder gap cylinder</text>
<text class="t" x="96.0" y="125.4" font-size="14.4" textLength="315.0" lengthAdjust="spacingAndGlyphs" transform="rotate(-0.62 96.0 125.4)">positioning device inserted, pressed by the arrow A</text>
<text class="t" x="96.0" y="141.7" font-size="14.4" textLength="287.3" lengthAdjust="spacingAndGlyphs" transform="rotate(-0.60 96.0 141.7)">direction and the direction of arrow B along the</text>
<text class="t" x="95.0" y="158.0" font-size="14.4" textLength="290.6" lengthAdjust="spacingAndGlyphs" transform="rotate(-0.51 95.0 158.0)">cylinder rotated about 20 degrees to tighten up.</text>
<text class="t" x="83.6" y="190.5" font-size="14.4" textLength="329.4" lengthAdjust="spacingAndGlyphs" transform="rotate(-0.09 83.6 190.5)">Please adjust the gas cylinder's location device to the</text>
<text class="t" x="83.6" y="206.7" font-size="14.4" textLength="296.2" lengthAdjust="spacingAndGlyphs">correct position then make the location device to</text>
<text class="t" x="83.6" y="222.9" font-size="14.4" textLength="304.2" lengthAdjust="spacingAndGlyphs" transform="rotate(0.08 83.6 222.9)">the correct position then make the location device</text>
<text class="t" x="83.6" y="239.7" font-size="14.4" textLength="293.9" lengthAdjust="spacingAndGlyphs" transform="rotate(0.14 83.6 239.7)">into the gap of cylinder according to the graphic.</text>
<text class="t" x="83.6" y="255.7" font-size="14.4" textLength="161.0" lengthAdjust="spacingAndGlyphs" transform="rotate(0.07 83.6 255.7)">Press tightly as A direction.</text>
<text class="t" x="94.1" y="392.9" font-size="15.9" textLength="394.5" lengthAdjust="spacingAndGlyphs" transform="rotate(-1.80 94.1 392.9)">Rotating cylinders should not be too hard,otherwise it will</text>
<text class="t" x="94.2" y="410.0" font-size="15.9" textLength="267.9" lengthAdjust="spacingAndGlyphs" transform="rotate(-1.37 94.2 410.0)">damage the cylinder positioning device.</text>
<text class="t" x="74.0" y="458.2" font-size="15.4" textLength="97.5" lengthAdjust="spacingAndGlyphs" transform="rotate(-2.00 74.0 458.2)">Ignition method</text>
<text class="t" x="72.3" y="475.7" font-size="15.9" textLength="433.9" lengthAdjust="spacingAndGlyphs" transform="rotate(-1.99 72.3 475.7)">1. Of the gun the gas knob to the left (counterclockwise) rotation</text>
<text class="t" x="89.0" y="493.5" font-size="15.9" textLength="133.1" lengthAdjust="spacingAndGlyphs" transform="rotate(-1.46 89.0 493.5)">of about 90 degrees.</text>
<text class="t" x="72.7" y="512.1" font-size="15.9" textLength="239.7" lengthAdjust="spacingAndGlyphs" transform="rotate(-1.55 72.7 512.1)">2. Direction of the arrow pressed the</text>
<text class="t" x="90.1" y="529.9" font-size="15.9" textLength="243.2" lengthAdjust="spacingAndGlyphs" transform="rotate(-1.34 90.1 529.9)">ignition button until you hear a &quot;click&quot;</text>
<text class="t" x="90.4" y="548.2" font-size="15.9" textLength="90.2" lengthAdjust="spacingAndGlyphs" transform="rotate(-1.21 90.4 548.2)">to the ignition.</text>
<text class="t" x="77.8" y="584.9" font-size="15.6" textLength="92.3" lengthAdjust="spacingAndGlyphs" transform="rotate(-0.93 77.8 584.9)">Fire regulation</text>
<text class="t" x="76.3" y="602.6" font-size="16.0" textLength="392.4" lengthAdjust="spacingAndGlyphs" transform="rotate(-0.93 76.3 602.6)">The gas regulator knob the left (counterclockwise) rotation</text>
<text class="t" x="76.3" y="620.1" font-size="16.0" textLength="383.2" lengthAdjust="spacingAndGlyphs" transform="rotate(-0.85 76.3 620.1)">can increase the fire, to the right (clockwise) rotation, the</text>
<text class="t" x="76.3" y="638.7" font-size="16.0" textLength="119.9" lengthAdjust="spacingAndGlyphs" transform="rotate(-0.29 76.3 638.7)">reduced firepower.</text>
<text class="t" x="79.3" y="675.9" font-size="15.6" textLength="146.9" lengthAdjust="spacingAndGlyphs" transform="rotate(-0.59 79.3 675.9)">Air conditioning button</text>
<text class="t" x="78.3" y="693.9" font-size="16.0" textLength="387.7" lengthAdjust="spacingAndGlyphs" transform="rotate(-0.33 78.3 693.9)">Flame can be adjusted according to the state for different</text>
<text class="t" x="78.3" y="711.3" font-size="16.0" textLength="380.2" lengthAdjust="spacingAndGlyphs" transform="rotate(-0.09 78.3 711.3)">purposes. Air-conditioning button to the right (clockwise)</text>
<text class="t" x="78.9" y="729.9" font-size="16.0" textLength="377.1" lengthAdjust="spacingAndGlyphs" transform="rotate(-0.15 78.9 729.9)">rotation, the flame spread; to the left (counterclockwise)</text>
<text class="t" x="78.9" y="748.6" font-size="16.0" textLength="227.7" lengthAdjust="spacingAndGlyphs" transform="rotate(-0.10 78.9 748.6)">rotation of the flame concentrated.</text>
<text class="t" x="81.7" y="786.3" font-size="15.8" textLength="51.3" lengthAdjust="spacingAndGlyphs" transform="rotate(-0.34 81.7 786.3)">Turn off</text>
<text class="t" x="64.1" y="804.9" font-size="16.0" textLength="336.7" lengthAdjust="spacingAndGlyphs">1. The gas knob to the right (clockwise) rotation to</text>
<text class="t" x="79.7" y="823.0" font-size="16.0" textLength="208.7" lengthAdjust="spacingAndGlyphs" transform="rotate(0.08 79.7 823.0)">tighten, to extinguish the flame.</text>
<text class="t" x="79.7" y="842.2" font-size="16.0" textLength="318.0" lengthAdjust="spacingAndGlyphs">Ensure the fire is completely extinguished, and</text>
<text class="t" x="79.7" y="860.4" font-size="16.0" textLength="305.1" lengthAdjust="spacingAndGlyphs" transform="rotate(0.32 79.7 860.4)">the temperature dropped until after the torch,</text>
<text class="t" x="79.7" y="879.5" font-size="16.0" textLength="217.2" lengthAdjust="spacingAndGlyphs" transform="rotate(0.34 79.7 879.5)">kept in safe custody of  children.</text>
</g>
<g>
<text class="c" x="579.4" y="47.4" font-size="10.3" textLength="61.6" lengthAdjust="spacingAndGlyphs">GAS REGULATOR</text>
<text class="c" x="704.5" y="56.2" font-size="11.0" textLength="14.8" lengthAdjust="spacingAndGlyphs">OFF</text>
<text class="c" x="495.5" y="155.4" font-size="10.7" textLength="80.2" lengthAdjust="spacingAndGlyphs">BOTTLE POSITIONING DEVICE</text>
<text class="c" x="492.4" y="172.8" font-size="10.7" textLength="73.6" lengthAdjust="spacingAndGlyphs">PORTABLE GAS CYLINDERS</text>
<text class="c" x="663.4" y="191.8" font-size="10.5" textLength="55.7" lengthAdjust="spacingAndGlyphs">CYLINDER GAP</text>
<text class="c" x="193.0" y="324.0" font-size="10.9" textLength="117.3" lengthAdjust="spacingAndGlyphs" transform="rotate(-1.81 193.0 324.0)">AFTER THE INSTALLATION METHOD</text>
<text class="c" x="445.8" y="310.9" font-size="11.0" textLength="67.1" lengthAdjust="spacingAndGlyphs" transform="rotate(-1.62 445.8 310.9)">NORMAL POSITION</text>
<text class="c" x="355.3" y="300.9" font-size="4.6" textLength="37.8" lengthAdjust="spacingAndGlyphs">TO RETURN TO THE</text>
<text class="c" x="355.3" y="307.0" font-size="4.6" textLength="36.2" lengthAdjust="spacingAndGlyphs">NORMAL POSITION</text>
<text class="c" x="434.2" y="522.3" font-size="11.5" textLength="11.1" lengthAdjust="spacingAndGlyphs">ON</text>
<text class="c" x="510.1" y="530.2" font-size="11.8" textLength="66.9" lengthAdjust="spacingAndGlyphs">GAS REGULATOR</text>
<text class="c" x="672.2" y="526.1" font-size="13.2" textLength="53.5" lengthAdjust="spacingAndGlyphs">IGNITION KEY</text>
<text class="c" x="632.2" y="574.6" font-size="11.0" textLength="23.4" lengthAdjust="spacingAndGlyphs">WEAK</text>
<text class="c" x="564.4" y="605.6" font-size="12.0" textLength="34.2" lengthAdjust="spacingAndGlyphs">STRONG</text>
<text class="c" x="660.3" y="602.1" font-size="12.5" textLength="69.4" lengthAdjust="spacingAndGlyphs">GAS REGULATOR</text>
<text class="c" x="572.7" y="666.2" font-size="12.3" textLength="69.3" lengthAdjust="spacingAndGlyphs">CONCENTRATED FLAME</text>
<text class="c" x="663.9" y="664.9" font-size="12.0" textLength="46.5" lengthAdjust="spacingAndGlyphs">FLAME SPREAD</text>
<text class="c" x="645.3" y="732.6" font-size="12.0" textLength="97.1" lengthAdjust="spacingAndGlyphs">FINE FLAME CONTROLLER</text>
<text class="c" x="490.8" y="761.5" font-size="9.6" textLength="52.7" lengthAdjust="spacingAndGlyphs">GAS REGULATOR</text>
<text class="c" x="598.9" y="773.7" font-size="12.2" textLength="14.8" lengthAdjust="spacingAndGlyphs">OFF</text>
<text class="t" x="659.6" y="172.3" font-size="13.2" textLength="9.1" lengthAdjust="spacingAndGlyphs">A</text>
<text class="t" x="616.3" y="186.6" font-size="12.5" textLength="8.0" lengthAdjust="spacingAndGlyphs">B</text>
<text class="t" x="675.2" y="860.7" font-size="11.8" textLength="9.1" lengthAdjust="spacingAndGlyphs">A</text>
<text class="t" x="651.9" y="877.9" font-size="11.8" textLength="7.1" lengthAdjust="spacingAndGlyphs">B</text>
</g>
</svg>
</body></html>
